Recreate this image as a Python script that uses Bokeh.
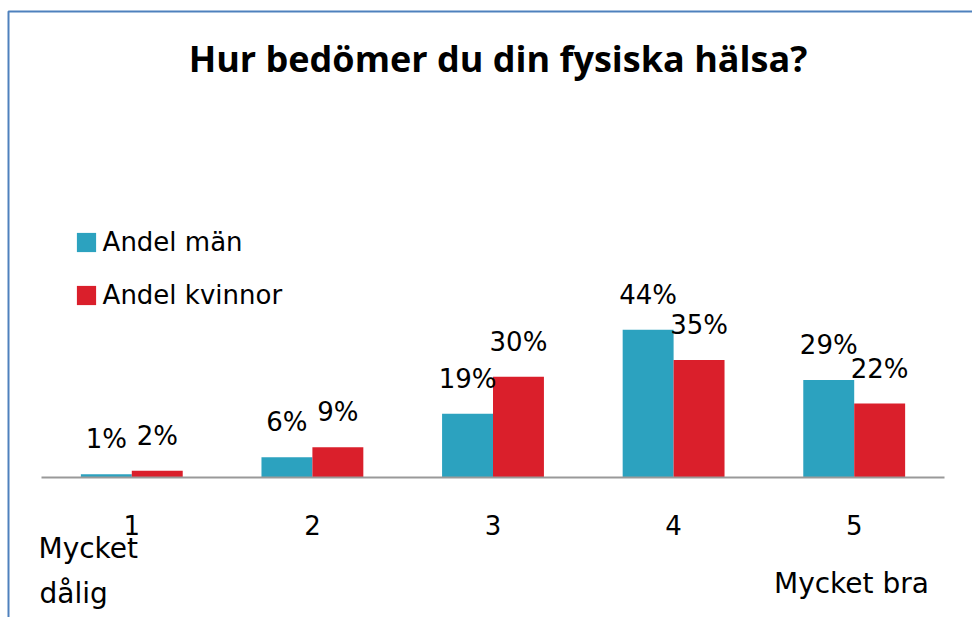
from bokeh.plotting import figure
from bokeh.models import (Range1d, Label, Legend, LegendItem, LinearAxis,
                          FixedTicker, BoxAnnotation, ColumnDataSource)
from bokeh.transform import dodge
from bokeh.embed import file_html
from bokeh.resources import INLINE
from bokeh.core.properties import value

# ---- data ----
categories = ["1", "2", "3", "4", "5"]
men = [1, 6, 19, 44, 29]
women = [2, 9, 30, 35, 22]
men_labels = ["1%", "6%", "19%", "44%", "29%"]
women_labels = ["2%", "9%", "30%", "35%", "22%"]
series_names = ["Andel män", "Andel kvinnor"]
title_text = "Hur bedömer du din fysiska hälsa?"
low_line1 = "Mycket"
low_line2 = "dålig"
high_label = "Mycket bra"

BLUE = "#2CA2BF"
RED = "#DA1F2B"
FONT = "DejaVu Sans"

xs = [i + 0.5 for i in range(len(categories))]
source = ColumnDataSource(dict(x=xs, cat=categories, men=men, women=women,
                               men_lab=men_labels, women_lab=women_labels))

p = figure(width=972, height=617,
           x_range=Range1d(-0.2270, 5.1550), y_range=Range1d(-41.667, 141.964),
           output_backend="svg", toolbar_location=None,
           x_axis_location=None, y_axis_location=None, min_border=0)
p.min_border_left = 0
p.min_border_right = 0
p.min_border_top = 0
p.min_border_bottom = 0
p.outline_line_color = None
p.xgrid.grid_line_color = None
p.ygrid.grid_line_color = None
p.background_fill_color = "white"
p.border_fill_color = "white"

W = 0.282
OFF = 0.141
r1 = p.vbar(x=dodge("x", -OFF), top="men", width=W,
            source=source, fill_color=BLUE, line_color=None)
r2 = p.vbar(x=dodge("x", OFF), top="women", width=W,
            source=source, fill_color=RED, line_color=None)

p.text(x=dodge("x", -OFF), y="men", text="men_lab",
       source=source, text_align="center", text_baseline="alphabetic",
       y_offset=-35, text_font=value(FONT), text_font_size="26px",
       text_color="black")
p.text(x=dodge("x", OFF), y="women", text="women_lab",
       source=source, text_align="center", text_baseline="alphabetic",
       y_offset=-35, text_font=value(FONT), text_font_size="26px",
       text_color="black")

ax = LinearAxis(fixed_location=0, bounds=(0, len(categories)),
                ticker=FixedTicker(ticks=xs),
                major_label_overrides={x: c for x, c in zip(xs, categories)})
ax.axis_line_color = "#999999"
ax.axis_line_width = 2
ax.major_tick_line_color = None
ax.minor_tick_line_color = None
ax.major_tick_out = 0
ax.major_tick_in = 0
ax.major_label_text_font = FONT
ax.major_label_text_font_size = "26px"
ax.major_label_text_color = "black"
ax.major_label_standoff = 38
p.add_layout(ax, "below")

legend = Legend(items=[LegendItem(label=series_names[0], renderers=[r1]),
                       LegendItem(label=series_names[1], renderers=[r2])],
                location=(73.6, 307.5), padding=0, margin=0, spacing=23,
                glyph_width=24, glyph_height=24, label_standoff=5,
                label_text_font=FONT, label_text_font_size="26px",
                label_text_color="black",
                border_line_color=None, background_fill_alpha=0)
p.add_layout(legend, "center")

p.add_layout(Label(x=497.5, y=559, x_units="screen", y_units="screen",
                   text=title_text, text_align="center",
                   text_baseline="alphabetic", text_font="Open Sans",
                   text_font_style="bold", text_font_size="36px",
                   text_color="black"))
p.add_layout(Label(x=38, y=69, x_units="screen", y_units="screen",
                   text=low_line1, text_baseline="alphabetic", text_font=FONT,
                   text_font_size="28px", text_color="black"))
p.add_layout(Label(x=39, y=24, x_units="screen", y_units="screen",
                   text=low_line2, text_baseline="alphabetic", text_font=FONT,
                   text_font_size="28px", text_color="black"))
p.add_layout(Label(x=773.5, y=34, x_units="screen", y_units="screen",
                   text=high_label, text_baseline="alphabetic", text_font=FONT,
                   text_font_size="28px", text_color="black"))

p.add_layout(BoxAnnotation(left=8, right=3000, top=606, bottom=-3000,
                           left_units="screen", right_units="screen",
                           top_units="screen", bottom_units="screen",
                           fill_alpha=0, line_color="#4F81BD", line_width=2,
                           line_alpha=1))

open("out.html", "w").write(file_html(p, INLINE))
